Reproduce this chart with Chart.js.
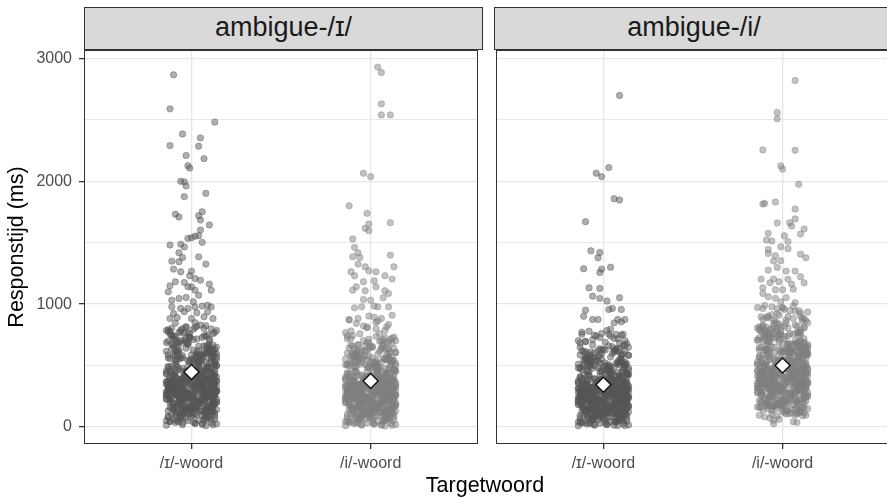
<!DOCTYPE html>
<html>
<head>
<meta charset="utf-8">
<script src="https://cdn.jsdelivr.net/npm/chart.js@4.4.0/dist/chart.umd.min.js"></script>
<style>
  html, body { margin: 0; padding: 0; background: #fff; }
  #wrap { position: relative; width: 887px; height: 498px; overflow: hidden; font-family: "Liberation Sans", Arial, sans-serif; }
  canvas { position: absolute; top: 0; }
  .strip { position: absolute; top: 7px; height: 43px; box-sizing: border-box; border: 1px solid #333;
           background: #d9d9d9; color: #1a1a1a; font-size: 27px; display: flex; align-items: center; justify-content: center; padding-bottom: 2px; }
  #xtitle { position: absolute; left: 84px; width: 802px; top: 472px; line-height: 26px; font-size: 21.5px; text-align: center; color: #000; }
</style>
</head>
<body>
<div id="wrap">
  <canvas id="left" width="487" height="498" style="left:0"></canvas>
  <canvas id="right" width="412" height="498" style="left:487px"></canvas>
  <div class="strip" id="strip0" style="left:84px;width:399px"></div>
  <div class="strip" id="strip1" style="left:494px;width:400px"></div>
  <div id="xtitle"></div>
</div>
<script>
const categories = ['/ɪ/-woord', '/i/-woord'];
const panelLabels = ['ambigue-/ɪ/', 'ambigue-/i/'];
const xTitle = 'Targetwoord';
const yTitle = 'Responstijd (ms)';
const yTickValues = [0, 1000, 2000, 3000];
const yGridValues = [0, 500, 1000, 1500, 2000, 2500, 3000];
// means per panel: [target /ɪ/, target /i/]
const meanRt = [[448, 375], [345, 500]];

// horizontal jitter of the dense points, in hundredths of a category
const coreJitter = [
  -12, 5, -3, 13, -8, 1, 10, -14, 7, -5, 3, -10, 12, -1, 8, -13, 4, -7, 11, -2,
  6, -11, 14, -4, 2, -9, 9, -6, 0, 12, -13, 5, -2, 10, -8, 3, -12, 7, -5, 13,
  -1, 11, -10, 4, -14, 8, -3, 1, 13, -7, 6, -11, 9, -4, 2, 14, -9, -6, 10, 0,
  -13, 3, 7, -2, 12, -8, 5, -12, 1, 11, -5, 9, -10, 4, -1, 13, -7, 6, -14, 8,
  2, -9, 10, -3, 14, -6, 0, 7, -11, 12, -4, 5, -13, 9, -2, 3, -8, 11, -5, 1,
  13, -12, 6, -1, 8, -10, 4, -14, 10, -3, 2, -7, 12, 0, -9, 7, -4, 14, -11, 5,
  -6, 9, -2, 11, -13, 3, -8, 13, 1, -5, 10, -12, 6, -1, 8, -10, 4, -7, 12, -3,
  7, -14, 2, -9, 11, -4, 14, -6, 5, -11, 0, 9, -2, 12, -13, 3, -8, 10, -5, 6,
  -10, 1, 13, -7, 4, -12, 8, -3, 11, -1, 6, -14, 2, -8, 12, -5, 9, -11, 3, 14,
  -4, 10, -13, 0, 7, -9, 13, -2, 5, -6, 11, -12, 1, 8, -10, 4, -3, 12, -7, 2,
  9, -1, -11, 6, -5, 14, -8, 3, -13, 10, -3, 7, -10, 1, 13, -6, 5, -12, 8, -2,
  11, -7, 4, -14, 12, 0, -9, 6, -4, 2, -12, 9, -1, 14, -8, 5, -11, 3, 10, -6,
  -3, 13, -10, 7, 1, -13, 11, -5, 8, -2, 12, -9, 4, -7, 0, 10, -14, 6, -1, 9
];
const coreJitterB = [
  8, -4, 12, -11, 1, -7, 14, -2, 5, -13, 10, -6, 3, -9, 13, -1, 6, -12, 9, -5,
  -14, 4, -8, 11, -3, 7, -10, 2, 12, -6, -1, 9, -13, 5, -7, 14, 0, -11, 3, 10,
  -9, 13, -5, 1, 8, -12, 6, -2, 11, -8, 4, -14, 10, -4, 2, 12, -10, 7, -3, -7,
  5, -11, 14, -6, 9, 0, -13, 3, -8, 12, -2, 7, -10, 1, 11, -5, 13, -12, 6, -1,
  -7, 10, -3, 13, -9, 4, -14, 8, 1, -11, 12, -4, 6, -8, 2, 9, -12, 14, -6, 3,
  11, -2, 7, -13, 4, -9, 10, -5, 13, -1, -10, 6, -3, 14, -7, 1, 8, -11, 12, -4,
  -12, 5, -6, 9, -1, 13, -8, 2, -14, 10, 3, -5, 11, -9, 7, -3, 12, -13, 0, 8,
  1, -10, 13, -4, 6, -12, 9, -7, 3, 14, -6, 11, -2, 8, -11, 4, -9, 10, -1, -13,
  12, -3, 5, -8, 14, -11, 2, 7, -5, -12, 9, -1, 13, -6, 4, -10, 6, -2, 11, -9,
  -5, 8, -12, 3, -7, 11, -1, 13, -10, 6, -4, 10, -14, 2, 9, -8, 0, 12, -3, 7
];
const coreJitterC = [
  3, -9, 12, -5, 8, -13, 1, 10, -7, 14, -2, 6, -11, 4, -4, 11, -14, 7, -1, 13,
  -8, 2, -12, 9, -3, 5, -10, 12, 0, -6, 10, -13, 4, 8, -9, 1, 14, -5, 6, -11,
  11, -4, 7, -14, 2, 13, -7, 3, -10, 9, -2, 12, -12, 5, -6, 10, -1, 8, -13, 4,
  -5, 14, -9, 0, 11, -3, 6, -11, 9, -8, 13, 1, -6, 12, -14, 3, 7, -4, 10, -10,
  5, -12, 8, -1, 13, -7, 2, 11, -13, 4, -5, 9, -9, 14, -3, 6, -11, 1, 12, -7,
  -2, 10, -14, 7, -6, 12, -10, 3, 8, -4, 11, -8, 0, 13, -12, 5, -3, 9, -9, 2
];

// panel ambigue-/ɪ/, target /ɪ/-woord
const coreIhIh = [
  312, 188, 455, 267, 541, 96, 378, 229, 612, 345, 153, 402, 287, 731, 261, 334, 489, 42, 305, 376,
  218, 447, 571, 139, 293, 356, 664, 251, 421, 312, 78, 538, 274, 389, 195, 466, 327, 802, 243, 358,
  405, 162, 283, 519, 347, 11, 238, 436, 297, 627, 371, 205, 488, 316, 148, 552, 262, 393, 714, 339,
  276, 431, 121, 364, 593, 254, 318, 472, 187, 349, 683, 296, 58, 417, 236, 528, 385, 271, 456, 169,
  333, 507, 212, 641, 289, 384, 146, 441, 301, 759, 227, 366, 493, 178, 311, 574, 264, 398, 34, 322,
  446, 253, 361, 198, 534, 283, 427, 617, 244, 372, 108, 469, 326, 215, 548, 291, 402, 786, 233, 357,
  182, 394, 274, 483, 130, 341, 596, 258, 413, 302, 667, 221, 458, 367, 86, 313, 521, 249, 386, 697,
  292, 438, 164, 353, 562, 269, 407, 199, 329, 741, 246, 378, 498, 157, 306, 583, 281, 422, 19, 344,
  427, 236, 319, 609, 188, 363, 454, 272, 126, 398, 513, 259, 338, 652, 208, 476, 299, 382, 821, 227,
  361, 174, 486, 297, 69, 412, 254, 543, 333, 219, 448, 386, 626, 143, 307, 531, 265, 419, 196, 318,
  247, 462, 335, 584, 203, 372, 118, 435, 290, 705, 256, 401, 327, 169, 517, 284, 446, 231, 393, 52,
  352, 229, 498, 277, 631, 184, 325, 409, 152, 368, 557, 241, 436, 298, 678, 213, 382, 469, 97, 339,
  278, 421, 192, 346, 526, 262, 403, 137, 314, 768, 235, 459, 373, 208, 587, 295, 431, 26, 351, 604
];
const coreBIhIh = [
  284, 417, 196, 352, 533, 241, 376, 162, 458, 309, 627, 228, 394, 271, 505, 133, 342, 446, 258, 581,
  367, 213, 489, 296, 174, 412, 322, 551, 247, 384, 109, 463, 279, 336, 692, 201, 428, 315, 517, 262,
  438, 186, 349, 273, 604, 227, 391, 144, 476, 304, 538, 254, 361, 419, 167, 298, 742, 233, 405, 327,
  221, 497, 331, 268, 412, 156, 563, 289, 374, 205, 446, 318, 652, 242, 389, 125, 471, 353, 279, 528,
  345, 264, 432, 191, 586, 306, 368, 238, 459, 283, 171, 401, 325, 617, 217, 486, 357, 292, 95, 423,
  303, 456, 208, 379, 275, 542, 329, 181, 414, 251, 667, 362, 232, 498, 286, 396, 149, 341, 570, 267,
  406, 195, 318, 482, 246, 359, 137, 441, 287, 523, 215, 387, 311, 712, 258, 430, 179, 344, 466, 236,
  269, 387, 512, 224, 348, 159, 476, 294, 593, 203, 365, 431, 252, 322, 639, 188, 409, 281, 544, 337,
  427, 246, 363, 178, 503, 284, 397, 214, 455, 331, 119, 389, 276, 561, 230, 418, 308, 681, 253, 372,
  317, 479, 199, 402, 288, 536, 243, 354, 166, 437, 295, 611, 226, 383, 261, 492, 148, 356, 728, 274
];
const coreCIhIh = [
  612, 734, 568, 801, 655, 587, 712, 643, 769, 596, 681, 557, 748, 624, 703, 579, 786, 661, 725, 604,
  693, 571, 757, 638, 816, 589, 719, 667, 552, 774, 631, 698, 583, 741, 616, 795, 649, 563, 728, 676,
  602, 763, 574, 687, 809, 634, 558, 717, 592, 752, 669, 621, 781, 566, 706, 645, 733, 598, 793, 658,
  84, 142, 37, 116, 61, 158, 23, 103, 134, 49, 91, 167, 72, 125, 15, 146, 58, 109, 81, 152,
  128, 44, 97, 163, 66, 119, 31, 139, 88, 54, 151, 76, 112, 27, 136, 95, 160, 41, 121, 69,
  107, 155, 52, 131, 79, 18, 144, 99, 63, 124, 35, 168, 86, 113, 47, 137, 74, 159, 92, 29
];
const tailIhIh = [
  2866, 2589, 2481, 2385, 2353, 2290, 2285, 2209, 2184, 2127,
  2107, 2000, 1995, 1962, 1875, 1902, 1731, 1709, 1720, 1752,
  1685, 1644, 1603, 1557, 1540, 1535, 1553, 1503, 1481, 1488,
  1466, 1418, 1380, 1385, 1345, 1350, 1326, 1285, 1263, 1268,
  1231, 1209, 1195, 1149, 1182, 1176, 1141, 1141, 1114, 1163,
  1114, 1100, 1046, 1054, 1073, 1032, 1019, 992, 978, 965,
  965, 978, 984, 978, 924, 938, 930, 938, 883, 891,
  883, 897, 883, 845, 812, 830, 798, 776, 760, 825,
  790, 850, 770, 805, 742
];
const tailJitIhIh = [
  -10, -12, 13, -5, 5, -12, 4, -3, 7, -2,
  -1, -6, -4, -3, -4, 8, -9, -7, 4, 6,
  5, 10, 5, 4, 0, -2, 2, 6, -12, -6,
  -4, -7, -5, 4, -7, -11, 8, -10, -6, 0,
  -1, 2, 5, -12, -9, -4, -2, 0, 2, 10,
  11, -13, -7, -3, 4, -11, 1, 9, -11, -6,
  -2, 2, 6, 11, -10, -4, 3, 9, -12, -8,
  0, 7, 12, -9, -3, 5, 11, -13, -1, 8,
  -6, 2, 13, -11, 7
];

// panel ambigue-/ɪ/, target /i/-woord
const coreIhI = [
  276, 148, 402, 231, 489, 62, 337, 198, 556, 305, 127, 362, 251, 641, 225, 293, 433, 31, 268, 334,
  187, 398, 518, 112, 258, 317, 591, 216, 376, 276, 49, 482, 240, 347, 163, 415, 289, 712, 208, 318,
  361, 134, 247, 463, 306, 8, 202, 388, 261, 567, 329, 172, 437, 279, 121, 497, 228, 351, 632, 299,
  241, 385, 94, 323, 538, 219, 281, 423, 156, 308, 611, 259, 37, 372, 203, 471, 342, 236, 406, 138,
  295, 452, 179, 578, 253, 341, 117, 394, 266, 684, 193, 324, 441, 147, 274, 516, 229, 355, 22, 285,
  398, 218, 319, 166, 477, 247, 381, 553, 210, 330, 83, 419, 288, 183, 492, 255, 359, 703, 199, 316,
  151, 351, 239, 431, 103, 302, 537, 224, 367, 266, 598, 189, 408, 325, 59, 276, 466, 214, 344, 623,
  256, 391, 135, 313, 504, 234, 362, 168, 291, 665, 212, 336, 446, 128, 270, 527, 246, 377, 14, 306,
  381, 203, 282, 549, 156, 323, 406, 237, 99, 355, 459, 225, 300, 586, 176, 425, 263, 340, 738, 194,
  321, 143, 434, 261, 46, 367, 221, 488, 296, 187, 400, 344, 563, 114, 271, 476, 231, 374, 165, 281,
  213, 413, 298, 524, 171, 331, 91, 389, 255, 634, 222, 357, 290, 139, 463, 249, 398, 198, 350, 33,
  314, 196, 446, 242, 568, 153, 289, 364, 124, 327, 501, 208, 389, 262, 609, 181, 340, 419, 72, 301,
  243, 376, 160, 309, 471, 228, 359, 109, 278, 689, 201, 410, 332, 176, 530, 259, 384, 17, 313, 545
];
const coreBIhI = [
  258, 381, 172, 322, 486, 214, 343, 139, 417, 281, 568, 199, 360, 244, 461, 106, 312, 407, 231, 529,
  334, 187, 446, 268, 148, 375, 293, 503, 222, 351, 84, 423, 253, 306, 624, 176, 389, 287, 472, 236,
  398, 161, 318, 247, 551, 201, 357, 120, 434, 277, 491, 229, 328, 381, 143, 271, 659, 207, 369, 298,
  196, 453, 302, 243, 376, 131, 514, 262, 340, 180, 406, 290, 592, 218, 354, 101, 429, 321, 254, 481,
  314, 239, 393, 166, 535, 279, 335, 213, 418, 257, 147, 365, 296, 562, 192, 443, 325, 266, 71, 385,
  276, 415, 184, 345, 250, 494, 300, 157, 377, 226, 603, 330, 208, 453, 261, 360, 126, 311, 519, 242,
  369, 170, 289, 438, 222, 327, 114, 401, 261, 475, 191, 352, 283, 638, 234, 391, 155, 313, 424, 211,
  244, 352, 466, 200, 316, 135, 433, 268, 540, 179, 332, 392, 228, 293, 581, 165, 372, 256, 495, 306,
  389, 222, 330, 154, 458, 259, 361, 190, 414, 301, 96, 353, 251, 511, 206, 380, 280, 619, 229, 338,
  288, 436, 175, 366, 262, 488, 219, 322, 142, 397, 269, 556, 202, 348, 237, 448, 124, 324, 662, 249
];
const coreCIhI = [
  512, 587, 538, 624, 559, 503, 648, 571, 529, 605, 546, 633, 518, 592, 565, 611, 507, 655, 578, 541,
  596, 521, 642, 553, 509, 617, 568, 534, 659, 583, 548, 601, 515, 637, 574, 526, 608, 562, 646, 537,
  712, 823, 676, 768, 894, 731, 665, 852, 744, 689, 807, 723, 871, 698, 759, 835, 682, 786, 719, 864,
  76, 131, 28, 104, 55, 147, 19, 92, 122, 43, 83, 156, 64, 114, 11, 138, 51, 97, 70, 143,
  118, 39, 86, 152, 58, 109, 25, 127, 79, 48, 141, 68, 101, 21, 125, 87, 149, 35, 111, 61,
  96, 144, 46, 120, 72, 14, 133, 89, 57, 115, 31, 158, 77, 106, 41, 129, 66, 150, 84, 24
];
const tailIhI = [
  2929, 2885, 2630, 2540, 2540, 2065, 2038, 1801, 1739, 1663,
  1652, 1617, 1598, 1530, 1462, 1418, 1386, 1380, 1399, 1326,
  1304, 1271, 1263, 1304, 1263, 1231, 1231, 1204, 1182, 1190,
  1114, 1141, 1109, 1141, 1109, 1087, 1052, 1038, 1032, 970,
  978, 984, 978, 978, 875, 883, 903, 883, 910, 782,
  815, 800, 815, 842, 720, 760, 705, 688, 742, 655,
  730, 672, 640, 715, 698
];
const tailJitIhI = [
  4, 6, 6, 6, 11, -4, 0, -12, -2, 11,
  -1, -3, -1, -10, -9, -7, -10, -6, 11, -7,
  -3, -1, 3, 13, -11, -9, 8, 12, -4, 2,
  -10, -8, -3, 3, 8, 10, 7, -4, 0, -9,
  -5, 2, 4, 10, -12, -7, -1, 6, 12, -11,
  -2, 3, 9, -8, -11, 5, -4, 10, -13, 1,
  8, -7, 13, -1, 6
];

// panel ambigue-/i/, target /ɪ/-woord
const coreIIh = [
  258, 139, 371, 214, 452, 55, 311, 183, 517, 282, 118, 336, 233, 598, 208, 272, 401, 27, 248, 309,
  173, 368, 481, 104, 239, 293, 553, 200, 348, 256, 43, 447, 222, 321, 151, 384, 268, 633, 193, 295,
  334, 124, 229, 429, 284, 12, 187, 359, 242, 526, 304, 160, 405, 258, 112, 462, 211, 325, 587, 277,
  223, 356, 86, 299, 499, 203, 260, 392, 145, 285, 567, 240, 34, 344, 188, 437, 317, 219, 376, 128,
  273, 419, 166, 536, 234, 316, 108, 365, 246, 621, 179, 300, 409, 136, 254, 479, 212, 329, 20, 264,
  369, 202, 296, 154, 442, 229, 353, 512, 195, 306, 76, 388, 267, 170, 456, 236, 333, 649, 184, 293,
  140, 325, 221, 400, 95, 280, 498, 208, 340, 247, 555, 175, 378, 301, 51, 256, 432, 198, 319, 577,
  237, 362, 125, 290, 468, 217, 336, 156, 270, 610, 196, 311, 413, 118, 250, 489, 228, 350, 15, 284,
  353, 188, 261, 509, 144, 299, 376, 220, 92, 329, 425, 208, 278, 544, 163, 394, 244, 315, 662, 180,
  297, 133, 403, 242, 41, 340, 205, 452, 274, 173, 371, 319, 522, 106, 251, 441, 214, 347, 153, 260,
  197, 383, 276, 487, 158, 307, 84, 361, 236, 586, 206, 331, 269, 129, 429, 231, 369, 183, 324, 30,
  291, 181, 414, 224, 527, 142, 268, 338, 115, 303, 465, 193, 361, 243, 564, 168, 315, 389, 66, 279,
  225, 349, 148, 287, 437, 211, 333, 101, 258, 638, 186, 380, 308, 163, 491, 240, 356, 45, 290, 505
];
const coreBIIh = [
  241, 358, 160, 302, 456, 199, 322, 128, 391, 263, 533, 185, 338, 228, 432, 97, 292, 381, 215, 497,
  313, 174, 419, 251, 136, 352, 274, 472, 207, 329, 76, 397, 236, 286, 586, 163, 365, 268, 443, 220,
  374, 149, 297, 231, 517, 186, 335, 111, 407, 259, 461, 213, 307, 357, 132, 253, 615, 192, 346, 279,
  182, 425, 283, 227, 353, 121, 482, 245, 319, 167, 381, 271, 556, 203, 332, 93, 403, 301, 238, 451,
  294, 223, 368, 154, 502, 261, 314, 198, 392, 240, 136, 342, 277, 528, 178, 416, 305, 249, 62, 361,
  259, 389, 171, 323, 234, 463, 281, 145, 354, 211, 566, 309, 194, 425, 245, 338, 116, 292, 487, 226,
  346, 158, 270, 411, 207, 306, 104, 377, 244, 446, 177, 330, 265, 598, 218, 367, 143, 293, 398, 197,
  228, 331, 437, 186, 296, 124, 407, 251, 507, 166, 311, 368, 213, 275, 545, 153, 349, 239, 465, 287,
  365, 207, 309, 142, 430, 242, 339, 177, 389, 282, 87, 331, 235, 480, 192, 357, 263, 581, 214, 317,
  270, 409, 162, 344, 246, 458, 204, 302, 130, 373, 252, 522, 188, 327, 222, 421, 113, 304, 622, 233
];
const coreCIIh = [
  486, 561, 512, 603, 534, 478, 627, 547, 503, 582, 521, 612, 493, 569, 540, 594, 481, 638, 553, 516,
  574, 497, 621, 529, 484, 599, 545, 508, 632, 558, 525, 587, 490, 616, 551, 502, 585, 538, 624, 511,
  662, 741, 618, 703, 786, 679, 612, 757, 694, 641, 728, 667, 772, 653, 711, 749, 629, 719, 684, 797,
  68, 122, 24, 97, 49, 138, 15, 85, 113, 38, 76, 145, 57, 106, 10, 129, 45, 90, 63, 134,
  109, 33, 80, 141, 52, 101, 21, 118, 72, 42, 131, 61, 94, 17, 116, 81, 139, 30, 103, 55,
  88, 135, 40, 112, 66, 12, 124, 83, 50, 107, 27, 147, 71, 98, 36, 120, 59, 142, 78, 20
];
const tailIIh = [
  2698, 2111, 2065, 2038, 1858, 1848, 1671, 1434, 1420, 1377,
  1288, 1285, 1301, 1258, 1133, 1128, 1065, 1047, 1025, 1052,
  951, 957, 965, 957, 902, 875, 875, 848, 875, 875,
  856, 755, 780, 748, 761, 740, 755, 755, 698, 720,
  690, 668, 705, 650, 680
];
const tailJitIIh = [
  9, 3, -4, -1, 6, 9, -10, -7, -2, -3,
  -11, -1, 4, -2, -8, -2, -6, -2, 2, 9,
  -10, 3, 5, 10, -11, -6, -3, 6, 8, 12,
  10, -12, -8, -5, -1, 4, 7, 11, -10, 6,
  1, -6, 12, -13, 9
];

// panel ambigue-/i/, target /i/-woord
const coreII = [
  382, 214, 538, 326, 627, 118, 451, 287, 703, 413, 192, 478, 349, 786, 311, 398, 566, 71, 362, 437,
  271, 521, 659, 176, 357, 421, 742, 309, 497, 375, 95, 612, 336, 462, 243, 545, 391, 831, 298, 426,
  476, 201, 346, 598, 413, 38, 293, 509, 361, 719, 438, 258, 571, 384, 183, 641, 322, 465, 768, 404,
  337, 504, 152, 429, 681, 312, 389, 553, 231, 415, 757, 357, 83, 489, 289, 612, 452, 330, 531, 213,
  401, 589, 265, 732, 352, 456, 178, 516, 368, 812, 281, 434, 577, 221, 379, 664, 324, 471, 55, 390,
  521, 309, 428, 246, 623, 343, 501, 706, 299, 441, 137, 547, 394, 268, 634, 355, 476, 849, 287, 424,
  226, 466, 335, 563, 162, 408, 687, 316, 487, 368, 754, 273, 536, 434, 109, 380, 604, 305, 458, 778,
  356, 512, 203, 421, 649, 327, 479, 246, 397, 822, 302, 448, 582, 194, 373, 672, 342, 496, 27, 413,
  502, 289, 386, 695, 232, 430, 531, 333, 156, 469, 597, 316, 405, 741, 257, 554, 364, 451, 806, 279,
  429, 216, 568, 361, 98, 484, 312, 628, 400, 270, 524, 455, 716, 178, 374, 615, 325, 491, 243, 386,
  303, 541, 402, 673, 252, 440, 147, 510, 353, 794, 314, 471, 394, 209, 601, 348, 522, 284, 463, 64,
  420, 281, 578, 339, 718, 226, 393, 482, 189, 437, 646, 296, 511, 361, 767, 262, 451, 548, 123, 408,
  341, 496, 237, 415, 612, 320, 475, 171, 380, 839, 290, 536, 444, 256, 681, 359, 506, 44, 423, 695
];
const coreBII = [
  352, 497, 261, 444, 619, 301, 467, 214, 541, 389, 698, 282, 473, 338, 584, 179, 426, 532, 318, 651,
  453, 274, 573, 379, 229, 501, 407, 638, 311, 476, 152, 551, 353, 421, 763, 258, 517, 397, 601, 330,
  523, 246, 437, 341, 681, 288, 482, 196, 566, 383, 617, 319, 447, 508, 226, 371, 792, 293, 494, 414,
  281, 585, 418, 336, 502, 207, 648, 366, 459, 262, 533, 401, 726, 303, 484, 167, 561, 438, 352, 611,
  432, 327, 518, 247, 668, 387, 456, 298, 547, 355, 232, 491, 409, 697, 269, 578, 443, 370, 133, 512,
  384, 546, 265, 478, 344, 627, 416, 238, 503, 316, 747, 451, 291, 588, 362, 494, 209, 427, 653, 335,
  497, 250, 399, 569, 308, 446, 186, 532, 361, 607, 267, 481, 392, 778, 324, 521, 235, 431, 556, 295,
  340, 481, 596, 279, 437, 201, 563, 372, 677, 248, 458, 524, 315, 402, 716, 232, 506, 356, 631, 420,
  514, 309, 451, 224, 592, 362, 488, 268, 547, 417, 161, 483, 346, 649, 286, 507, 389, 756, 312, 466,
  397, 572, 255, 498, 363, 621, 297, 443, 218, 529, 374, 694, 277, 476, 330, 587, 188, 449, 804, 355
];
const coreCII = [
  648, 752, 611, 819, 683, 627, 737, 664, 794, 606, 712, 658, 771, 632, 724, 601, 806, 676, 748, 619,
  703, 615, 779, 653, 838, 622, 745, 691, 609, 796, 641, 726, 613, 767, 637, 821, 671, 604, 756, 697,
  629, 784, 618, 709, 847, 652, 603, 741, 626, 773, 688, 644, 801, 610, 731, 667, 759, 623, 814, 679,
  872, 936, 891, 968, 859, 924, 985, 878, 947, 903, 866, 958, 915, 881, 973, 897, 942, 862, 929, 990,
  142, 203, 117, 176, 96, 188, 131, 159, 214, 108, 167, 125, 196, 149, 89, 181, 137, 207, 113, 172,
  194, 121, 163, 218, 102, 154, 185, 133, 201, 145, 92, 177, 128, 211, 158, 116, 190, 139, 170, 106
];
const tailII = [
  2820, 2559, 2508, 2255, 2252, 2125, 2100, 1975, 1815, 1820,
  1831, 1774, 1660, 1693, 1663, 1636, 1611, 1570, 1576, 1557,
  1522, 1514, 1509, 1467, 1451, 1445, 1413, 1407, 1377, 1394,
  1353, 1350, 1299, 1277, 1269, 1269, 1204, 1204, 1223, 1174,
  1204, 1174, 1182, 1163, 1133, 1122, 1117, 1117, 1087, 1060,
  1052, 1011, 1047, 1019, 965, 978, 965, 973, 946, 902,
  897, 889, 910, 870, 883, 829, 842, 815, 820, 883,
  790, 760, 805, 745, 772, 738, 812
];
const tailJitII = [
  7, -3, -3, -11, 7, -1, 0, 9, -11, -10,
  -4, 7, -3, 7, 4, 5, 12, 10, -8, 1,
  -9, -6, 3, -1, 3, -8, -8, 10, 13, -4,
  -1, -5, -3, -8, 2, 7, -12, -5, 10, 12,
  3, -7, -2, 5, -11, 6, 0, -4, -11, -8,
  2, 7, -4, -1, -11, -6, -3, 0, 4, 10,
  -12, -8, -2, 2, 6, -11, -5, -1, 8, 11,
  -13, 4, 12, -7, 9, -2, -9
];

const darkPoint = '85,85,85';
const lightPoint = '128,128,128';

Chart.defaults.font.family = '"Liberation Sans", Arial, sans-serif';
Chart.defaults.animation = false;

document.getElementById('strip0').textContent = panelLabels[0];
document.getElementById('strip1').textContent = panelLabels[1];
document.getElementById('xtitle').textContent = xTitle;

function jittered(coreA, coreB, coreC, tail, tailJit, cat) {
  const pts = coreA.map((v, i) => ({ x: cat + coreJitter[i] / 100, y: v }));
  coreB.forEach((v, i) => pts.push({ x: cat + coreJitterB[i] / 100, y: v }));
  coreC.forEach((v, i) => pts.push({ x: cat + coreJitterC[i] / 100, y: v }));
  tail.forEach((v, i) => pts.push({ x: cat + tailJit[i] / 100, y: v }));
  return pts;
}

const panelBorder = {
  id: 'panelBorder',
  afterDraw(chart) {
    const { ctx, chartArea: a } = chart;
    ctx.save();
    ctx.strokeStyle = '#333';
    ctx.lineWidth = 1;
    ctx.strokeRect(Math.round(a.left) + 0.5, Math.round(a.top) + 0.5,
      Math.round(a.right - a.left) - 1, Math.round(a.bottom - a.top) - 1);
    ctx.restore();
  }
};

function pointSet(data, rgb) {
  return {
    data: data,
    order: 1,
    pointRadius: 3.2,
    pointBorderWidth: 0.8,
    pointBackgroundColor: 'rgba(' + rgb + ',0.48)',
    pointBorderColor: 'rgba(' + rgb + ',0.5)'
  };
}

function makePanel(id, p, withY) {
  const groups = p === 0
    ? [jittered(coreIhIh, coreBIhIh, coreCIhIh, tailIhIh, tailJitIhIh, 1),
       jittered(coreIhI, coreBIhI, coreCIhI, tailIhI, tailJitIhI, 2)]
    : [jittered(coreIIh, coreBIIh, coreCIIh, tailIIh, tailJitIIh, 1),
       jittered(coreII, coreBII, coreCII, tailII, tailJitII, 2)];

  return new Chart(document.getElementById(id), {
    type: 'scatter',
    data: {
      datasets: [
        pointSet(groups[0], darkPoint),
        pointSet(groups[1], lightPoint),
        {
          data: meanRt[p].map((m, i) => ({ x: i + 1, y: m })),
          order: 0,
          pointStyle: 'rectRot',
          pointRadius: 7.5,
          pointBorderWidth: 1.4,
          pointBackgroundColor: '#fff',
          pointBorderColor: '#111'
        }
      ]
    },
    options: {
      responsive: false,
      events: [],
      layout: { padding: withY ? { top: 50, right: 4, bottom: 0, left: 0 } : { top: 50, right: 5, bottom: 0, left: 7 } },
      plugins: { legend: { display: false }, tooltip: { enabled: false } },
      scales: {
        x: {
          type: 'linear',
          min: 0.4,
          max: 2.6,
          afterBuildTicks: s => { s.ticks = categories.map((c, i) => ({ value: i + 1 })); },
          afterFit: s => { s.height = 54; },
          border: { display: false },
          grid: { color: '#e6e6e6', lineWidth: 1.3, tickColor: '#333', tickLength: 5 },
          ticks: {
            autoSkip: false, maxRotation: 0, padding: 5, color: '#4d4d4d', font: { size: 16 },
            callback: (v, i) => categories[i]
          }
        },
        y: {
          min: -138,
          max: 3068,
          afterBuildTicks: s => { s.ticks = yGridValues.map(v => ({ value: v })); },
          afterFit: s => { s.width = withY ? 84 : 0; },
          border: { display: false },
          grid: {
            color: '#e6e6e6',
            lineWidth: ctx => yTickValues.includes(ctx.tick && ctx.tick.value) ? 1.3 : 0.9,
            drawTicks: withY,
            tickLength: 5,
            tickColor: ctx => yTickValues.includes(ctx.tick && ctx.tick.value) ? '#333' : 'rgba(0,0,0,0)'
          },
          ticks: {
            display: withY, padding: 7, color: '#4d4d4d', font: { size: 16 },
            callback: v => yTickValues.includes(v) ? String(v) : ''
          },
          title: {
            display: withY, text: yTitle, color: '#000',
            font: { size: 21.5 }, padding: { top: 4, bottom: 0 }
          }
        }
      }
    },
    plugins: [panelBorder]
  });
}

makePanel('left', 0, true);
makePanel('right', 1, false);
</script>
</body>
</html>
